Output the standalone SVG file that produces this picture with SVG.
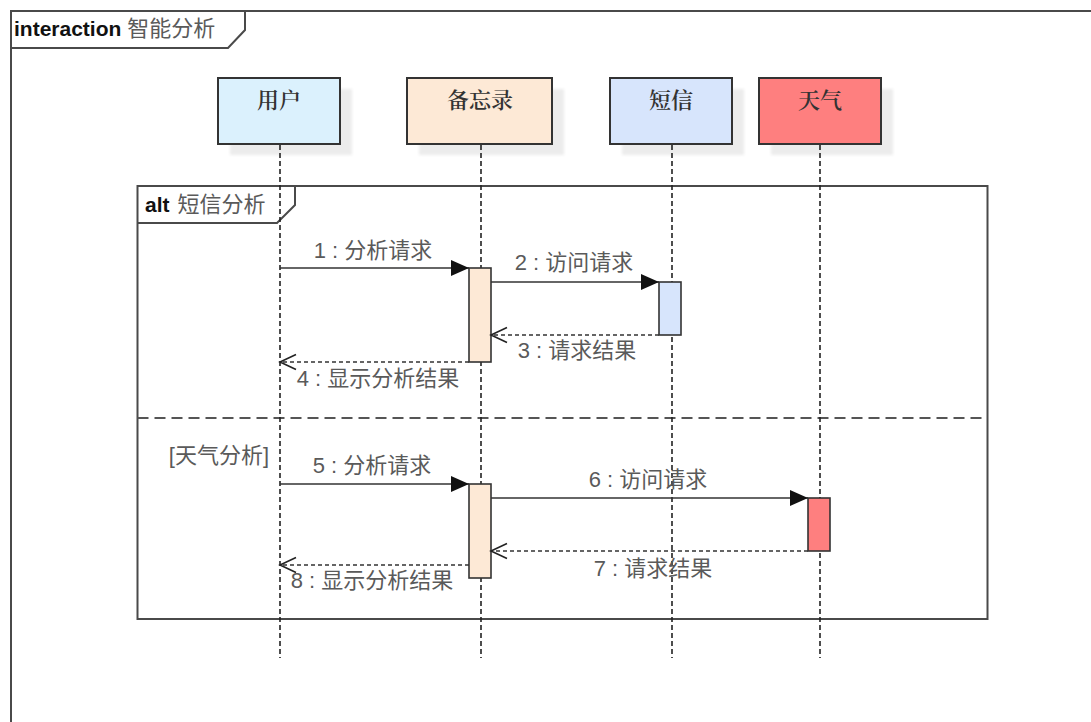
<svg xmlns="http://www.w3.org/2000/svg" width="1091" height="722" viewBox="0 0 1091 722">
<style>
.frame{fill:none;stroke:#4a4a4a;stroke-width:2}
.box{stroke:#333;stroke-width:2}
.shadow{fill:#ececec}
.life{stroke:#222;stroke-width:1.6;stroke-dasharray:5 3;fill:none}
.msg{stroke:#333;stroke-width:1.6;fill:none}
.ret{stroke:#333;stroke-width:1.6;stroke-dasharray:4 3;fill:none}
.act{stroke:#333;stroke-width:1.6}
.lbl{font-family:"Liberation Sans","Noto Sans CJK SC",sans-serif;font-size:22px;fill:#5a5a5a}
.name{font-family:"Noto Serif CJK SC","Noto Sans CJK SC",serif;font-size:22px;fill:#333;font-weight:600;text-anchor:middle}
.kw{font-family:"Liberation Sans","Noto Sans CJK SC",sans-serif;font-size:21px;font-weight:bold;fill:#111}
.div{stroke:#555;stroke-width:2;stroke-dasharray:11 6}
</style>
<defs>
<filter id="blur" x="-10%" y="-10%" width="120%" height="120%"><feGaussianBlur stdDeviation="1.5"/></filter>
<marker id="filled" markerUnits="userSpaceOnUse" markerWidth="19" markerHeight="17" refX="18" refY="8" orient="auto"><path d="M0,0 L18,8 L0,16 z" fill="#111"/></marker>
<marker id="open" markerUnits="userSpaceOnUse" markerWidth="20" markerHeight="18" refX="17" refY="8.5" orient="auto"><path d="M1,1 L17,8.5 L1,16" fill="none" stroke="#222" stroke-width="1.6"/></marker>
</defs>
<rect width="1091" height="722" fill="#ffffff"/>
<g id="frame-interaction">
<path class="frame" d="M11,722 L11,11 L1091,11"/>
<path class="frame" d="M11,48 L228,48 L245,30 L245,11"/>
<text x="14" y="36"><tspan class="kw">interaction</tspan><tspan class="lbl" dx="6">智能分析</tspan></text>
</g>
<g id="node-user">
<rect class="shadow" x="230" y="89" width="122" height="66" filter="url(#blur)"/>
<rect class="box" x="218" y="78" width="122" height="66" fill="#dbf1fd"/>
<text class="name" x="279" y="108">用户</text>
</g>
<g id="node-memo">
<rect class="shadow" x="419" y="89" width="145" height="66" filter="url(#blur)"/>
<rect class="box" x="407" y="78" width="145" height="66" fill="#fde9d6"/>
<text class="name" x="480" y="108">备忘录</text>
</g>
<g id="node-sms">
<rect class="shadow" x="622" y="89" width="122" height="66" filter="url(#blur)"/>
<rect class="box" x="610" y="78" width="122" height="66" fill="#d7e5fc"/>
<text class="name" x="671" y="108">短信</text>
</g>
<g id="node-weather">
<rect class="shadow" x="771" y="89" width="122" height="66" filter="url(#blur)"/>
<rect class="box" x="759" y="78" width="122" height="66" fill="#fe7f7f"/>
<text class="name" x="820" y="108">天气</text>
</g>
<g id="frame-alt">
<rect class="frame" x="137.5" y="186" width="850" height="433"/>
<path class="frame" d="M137.5,223 L277,223 L295,205 L295,186"/>
<text x="145" y="212"><tspan class="kw">alt</tspan><tspan class="lbl" dx="8">短信分析</tspan></text>
<line class="div" x1="137.5" y1="418" x2="987.5" y2="418"/>
<text class="lbl" x="269" y="463" text-anchor="end">[天气分析]</text>
</g>
<g id="lifelines">
<line class="life" x1="280" y1="145" x2="280" y2="658"/>
<line class="life" x1="481" y1="145" x2="481" y2="658"/>
<line class="life" x1="672" y1="145" x2="672" y2="658"/>
<line class="life" x1="820" y1="145" x2="820" y2="658"/>
</g>
<g id="activations">
<rect class="act" x="469" y="268" width="22" height="94" fill="#fde9d6"/>
<rect class="act" x="659" y="282" width="22" height="53" fill="#d7e5fc"/>
<rect class="act" x="469" y="484" width="22" height="94" fill="#fde9d6"/>
<rect class="act" x="808" y="498" width="22" height="53" fill="#fe7f7f"/>
</g>
<g id="connectors">
<line class="msg" x1="280" y1="268" x2="469" y2="268" marker-end="url(#filled)"/>
<text class="lbl" x="373" y="258" text-anchor="middle">1 : 分析请求</text>
<line class="msg" x1="491" y1="282" x2="659" y2="282" marker-end="url(#filled)"/>
<text class="lbl" x="574" y="270" text-anchor="middle">2 : 访问请求</text>
<line class="ret" x1="659" y1="335" x2="491" y2="335" marker-end="url(#open)"/>
<text class="lbl" x="577" y="358" text-anchor="middle">3 : 请求结果</text>
<line class="ret" x1="469" y1="362" x2="280" y2="362" marker-end="url(#open)"/>
<text class="lbl" x="378" y="386" text-anchor="middle">4 : 显示分析结果</text>
<line class="msg" x1="280" y1="484" x2="469" y2="484" marker-end="url(#filled)"/>
<text class="lbl" x="372" y="473" text-anchor="middle">5 : 分析请求</text>
<line class="msg" x1="491" y1="498" x2="808" y2="498" marker-end="url(#filled)"/>
<text class="lbl" x="648" y="487" text-anchor="middle">6 : 访问请求</text>
<line class="ret" x1="808" y1="551" x2="491" y2="551" marker-end="url(#open)"/>
<text class="lbl" x="653" y="576" text-anchor="middle">7 : 请求结果</text>
<line class="ret" x1="469" y1="565" x2="280" y2="565" marker-end="url(#open)"/>
<text class="lbl" x="372" y="588" text-anchor="middle">8 : 显示分析结果</text>
</g>
</svg>
